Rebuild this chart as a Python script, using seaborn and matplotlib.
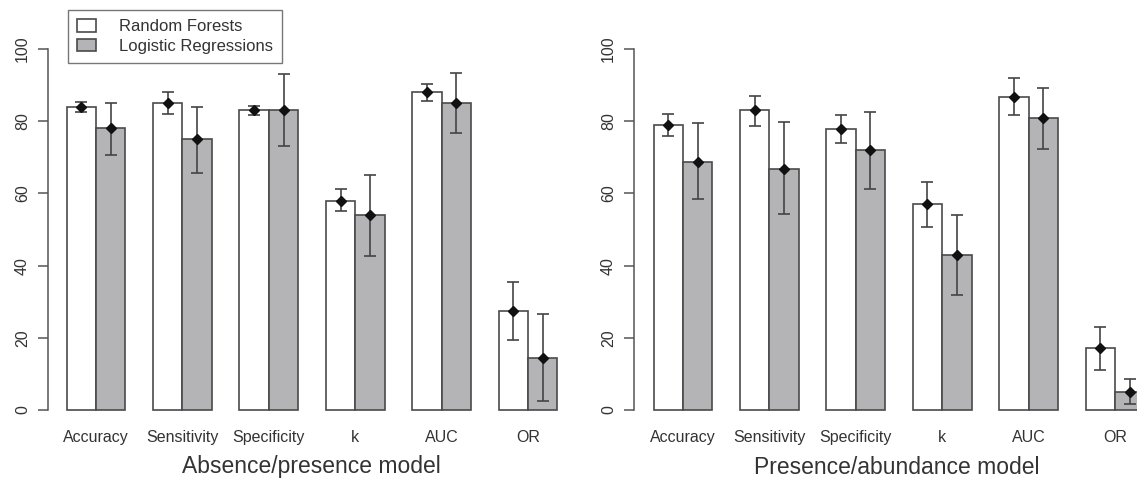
import pandas as pd
import numpy as np
import matplotlib
matplotlib.use('Agg')
import matplotlib.pyplot as plt
import seaborn as sns

# Data
metrics = ['Accuracy', 'Sensitivity', 'Specificity', 'k', 'AUC', 'OR']
models = ['Random Forests', 'Logistic Regressions']

# Absence/presence model
abs_rf = [84, 85, 83, 58, 88, 27.5]
abs_rf_lo = [82.4, 82, 81.7, 55, 85.6, 19.4]
abs_rf_hi = [85.4, 88, 84.2, 61.2, 90.3, 35.5]
abs_lr = [78, 75, 83, 54, 85, 14.5]
abs_lr_lo = [70.6, 65.6, 73, 42.7, 76.6, 2.5]
abs_lr_hi = [85, 84, 93, 65, 93.3, 26.6]

# Presence/abundance model
pa_rf = [79, 83, 77.8, 57, 86.8, 17.1]
pa_rf_lo = [76, 78.7, 74, 50.8, 81.7, 11.1]
pa_rf_hi = [82, 87, 81.7, 63.2, 92, 23]
pa_lr = [68.7, 66.8, 72, 43, 80.9, 4.9]
pa_lr_lo = [58.4, 54.3, 61.2, 31.8, 72.4, 1.7]
pa_lr_hi = [79.5, 79.8, 82.6, 53.9, 89.3, 8.5]

titles = ['Absence/presence model', 'Presence/abundance model']

sns.set_style('white')
plt.rcParams['font.family'] = ['Liberation Sans', 'DejaVu Sans']

fill_gray = '#b4b4b6'
edge_col = '#4a4a4a'
axis_col = '#555555'
text_col = '#333333'


def make_df(rf, lr):
    return pd.DataFrame({
        'metric': metrics * 2,
        'value': list(rf) + list(lr),
        'model': [models[0]] * len(metrics) + [models[1]] * len(metrics),
    })


panels = [
    (make_df(abs_rf, abs_lr), [(abs_rf, abs_rf_lo, abs_rf_hi), (abs_lr, abs_lr_lo, abs_lr_hi)]),
    (make_df(pa_rf, pa_lr), [(pa_rf, pa_rf_lo, pa_rf_hi), (pa_lr, pa_lr_lo, pa_lr_hi)]),
]

fig = plt.figure(figsize=(11.37, 4.8), dpi=100)
# axes positions in figure fractions (left, bottom, width, height)
positions = [[0.0422, 0.1158, 0.4679, 0.8123], [0.5576, 0.1158, 0.4424, 0.8123]]
xlims = [(-0.556, 5.601), (-0.567, 5.255)]
title_x = [311 / 1137, 897 / 1137]

for idx, (df, errs) in enumerate(panels):
    ax = fig.add_axes(positions[idx])
    sns.barplot(data=df, x='metric', y='value', hue='model', order=metrics,
                hue_order=models, palette=['white', fill_gray], width=0.68,
                edgecolor=edge_col, linewidth=1.2, errorbar=None, ax=ax,
                legend=(idx == 0), saturation=1)
    for container, (vals, lo, hi) in zip(ax.containers, errs):
        xs = [b.get_x() + b.get_width() / 2 for b in container]
        vals = np.array(vals)
        yerr = [vals - np.array(lo), np.array(hi) - vals]
        ax.errorbar(xs, vals, yerr=yerr, fmt='D', color='#111111', markersize=5,
                    ecolor='#444444', elinewidth=1.2, capsize=4, capthick=1.2,
                    zorder=5)
    ax.set_xlim(*xlims[idx])
    ax.set_ylim(-4, 104)
    ax.set_yticks([0, 20, 40, 60, 80, 100])
    for s in ['top', 'right', 'bottom']:
        ax.spines[s].set_visible(False)
    ax.spines['left'].set_bounds(0, 100)
    ax.spines['left'].set_color(axis_col)
    ax.spines['left'].set_linewidth(1.1)
    ax.tick_params(axis='y', left=True, length=7, width=1.1, color=axis_col, pad=6,
                   labelsize=11.5, labelcolor=text_col)
    ax.tick_params(axis='x', length=0, pad=4, labelsize=11.5, labelcolor=text_col)
    for lab in ax.get_yticklabels():
        lab.set_rotation(90)
        lab.set_va('center')
    ax.set_xlabel('')
    ax.set_ylabel('')
    if idx == 0:
        leg = ax.legend(loc='upper left', bbox_to_anchor=(68 / 1137, 1 - 10 / 480),
                        bbox_transform=fig.transFigure, fontsize=12, frameon=True,
                        fancybox=False, edgecolor='#555555', handlelength=1.1,
                        handleheight=0.8, borderpad=0.55, labelspacing=0.25,
                        handletextpad=1.4, borderaxespad=0)
        leg.get_frame().set_linewidth(1.0)
        for t in leg.get_texts():
            t.set_color(text_col)
    fig.text(title_x[idx], 1 - 467 / 480, titles[idx], ha='center', va='center',
             fontsize=16.5, color=text_col)

fig.savefig('out.png', dpi=100)
